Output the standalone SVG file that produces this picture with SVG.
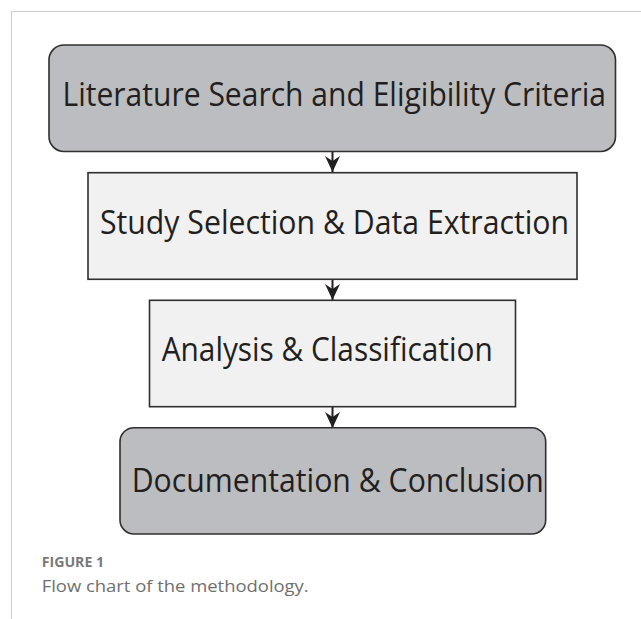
<svg xmlns="http://www.w3.org/2000/svg" width="641" height="619" viewBox="0 0 641 619">
<style>
.frame{stroke:#cccccc;stroke-width:1;fill:none}
.dark{fill:#bcbdc0;stroke:#2f2f2f;stroke-width:1.6}
.light{fill:#f1f1f1;stroke:#2f2f2f;stroke-width:1.6}
.lbl{font-family:"Open Sans","Noto Sans",sans-serif;font-size:32px;fill:#231f20}
.conn{stroke:#231f20;stroke-width:2;fill:none}
.cap1{font-family:"Open Sans","Lato",sans-serif;font-size:13.5px;font-weight:bold;fill:#7a7a7a}
.cap2{font-family:"Open Sans","Lato",sans-serif;font-size:16px;fill:#6f6f6f}
</style>
<defs>
<marker id="ah" markerUnits="userSpaceOnUse" markerWidth="20" markerHeight="20" viewBox="0 0 20 20" refX="16" refY="10" orient="auto">
<path d="M16,10 L0,2.5 L5,10 L0,17.5 Z" fill="#231f20"/>
</marker>
</defs>
<rect width="641" height="619" fill="#ffffff"/>
<path class="frame" d="M11.5,619 V11.5 H641"/>
<g id="connectors">
<line class="conn" x1="332.5" y1="152" x2="332.5" y2="172" marker-end="url(#ah)"/>
<line class="conn" x1="332.5" y1="279" x2="332.5" y2="300" marker-end="url(#ah)"/>
<line class="conn" x1="332.5" y1="407" x2="332.5" y2="428" marker-end="url(#ah)"/>
</g>
<g id="n1">
<rect class="dark" x="49" y="45" width="566.5" height="106.5" rx="15"/>
<text class="lbl" x="62.5" y="106" textLength="543.5" lengthAdjust="spacingAndGlyphs">Literature Search and Eligibility Criteria</text>
</g>
<g id="n2">
<rect class="light" x="88" y="172.7" width="489" height="106.6"/>
<text class="lbl" x="100" y="234" textLength="469" lengthAdjust="spacingAndGlyphs">Study Selection &amp; Data Extraction</text>
</g>
<g id="n3">
<rect class="light" x="149.5" y="300.3" width="366" height="106.4"/>
<text class="lbl" x="161.7" y="361" textLength="331" lengthAdjust="spacingAndGlyphs">Analysis &amp; Classification</text>
</g>
<g id="n4">
<rect class="dark" x="120" y="427.7" width="425.7" height="106.3" rx="14"/>
<text class="lbl" x="131.7" y="491.7" textLength="412" lengthAdjust="spacingAndGlyphs">Documentation &amp; Conclusion</text>
</g>
<g id="caption">
<text class="cap1" x="41.7" y="566.5" textLength="62.5" lengthAdjust="spacingAndGlyphs">FIGURE 1</text>
<text class="cap2" x="41.7" y="591.5" textLength="267" lengthAdjust="spacingAndGlyphs">Flow chart of the methodology.</text>
</g>
</svg>
